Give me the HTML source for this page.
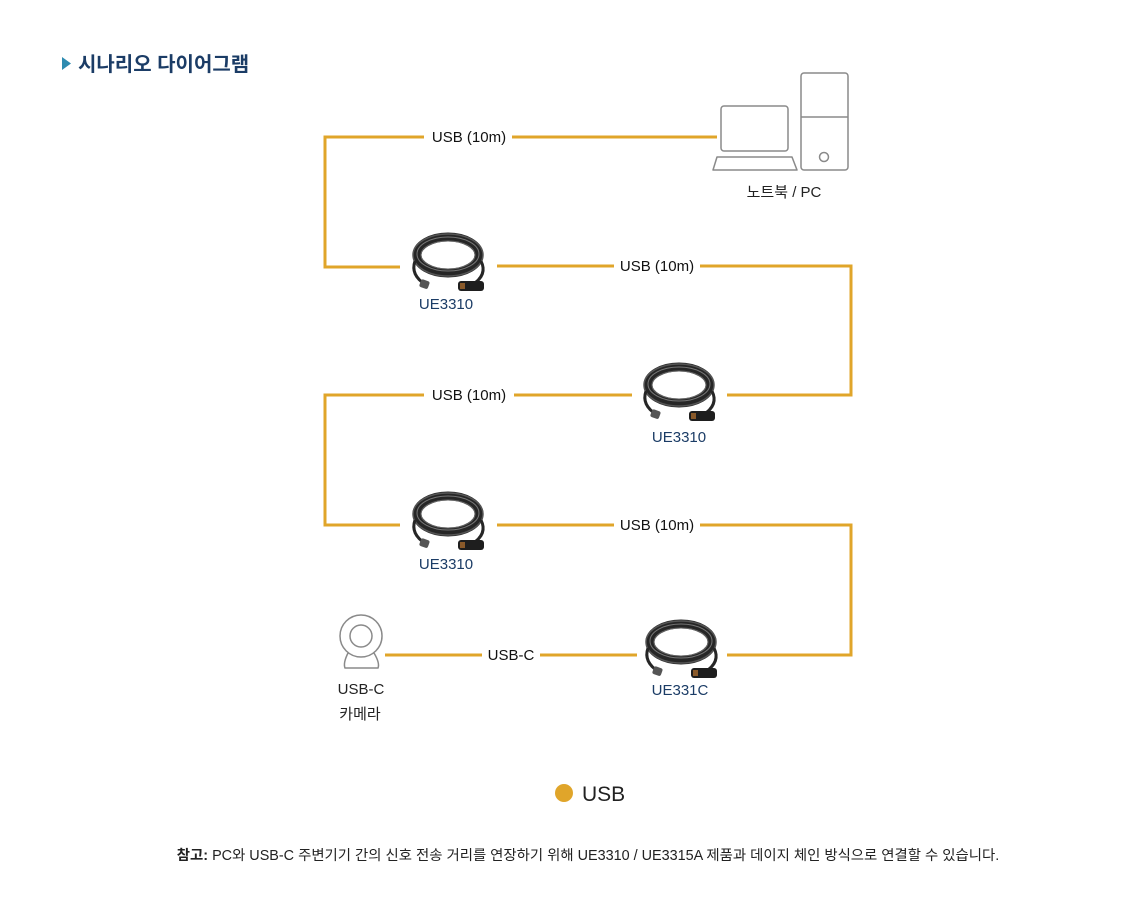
<!DOCTYPE html>
<html><head><meta charset="utf-8"><style>
body{margin:0;background:#fff;width:1140px;height:913px;overflow:hidden;font-family:"Liberation Sans","Noto Sans CJK KR",sans-serif}
svg{position:absolute;left:0;top:0}
</style></head><body>
<svg width="1140" height="913" viewBox="0 0 1140 913" font-family="Liberation Sans, Noto Sans CJK KR, sans-serif">
<defs>
<g id="cable">
 <g fill="none" stroke="#262626">
  <ellipse cx="0" cy="0" rx="31" ry="18" stroke-width="9"/>
  <ellipse cx="0" cy="0" rx="35" ry="21" stroke-width="1.5" stroke="#555"/>
  <ellipse cx="0" cy="0" rx="27" ry="14" stroke-width="1" stroke="#666"/>
  <ellipse cx="0" cy="-1" rx="31" ry="17" stroke-width="1" stroke="#777"/>
  <path d="M-33 6 Q-38 20 -22 30" stroke-width="3"/>
  <path d="M33 6 Q40 20 24 30" stroke-width="3"/>
 </g>
 <rect x="-28" y="25" width="9" height="8" rx="2" fill="#555" transform="rotate(20 -24 29)"/>
 <rect x="10" y="26" width="26" height="10" rx="3" fill="#1e1e1e"/>
 <rect x="12" y="28" width="5" height="6" fill="#8a5a2a"/>
</g>
</defs>

<polygon points="62,57 71,63.5 62,70" fill="#2e8bb0"/>
<text x="78" y="71" font-size="20" font-weight="bold" fill="#1b3c66">시나리오 다이어그램</text>

<g fill="none" stroke="#e0a52a" stroke-width="3">
 <polyline points="717,137 325,137 325,267 400,267"/>
 <polyline points="497,266 851,266 851,395 727,395"/>
 <polyline points="632,395 325,395 325,525 400,525"/>
 <polyline points="497,525 851,525 851,655 727,655"/>
 <line x1="385" y1="655" x2="637" y2="655"/>
</g>
<g font-size="15" fill="#111" text-anchor="middle">
 <rect x="424" y="126" width="88" height="22" fill="#fff"/><text x="469" y="142">USB (10m)</text>
 <rect x="614" y="255" width="86" height="22" fill="#fff"/><text x="657" y="271">USB (10m)</text>
 <rect x="424" y="384" width="90" height="22" fill="#fff"/><text x="469" y="400">USB  (10m)</text>
 <rect x="614" y="514" width="86" height="22" fill="#fff"/><text x="657" y="530">USB (10m)</text>
 <rect x="482" y="644" width="58" height="22" fill="#fff"/><text x="511" y="660">USB-C</text>
</g>

<!-- PC -->
<g fill="none" stroke="#8a8a8a" stroke-width="1.5">
 <rect x="721" y="106" width="67" height="45" rx="3"/>
 <path d="M717 157 L792 157 L797 170 L713 170 Z" stroke-linejoin="round"/>
 <rect x="801" y="73" width="47" height="97" rx="3"/>
 <line x1="801" y1="117" x2="848" y2="117"/>
 <circle cx="824" cy="157" r="4.5"/>
</g>
<text x="784" y="197" font-size="15" fill="#222" text-anchor="middle">노트북 / PC</text>

<use href="#cable" x="448" y="255"/>
<use href="#cable" x="679" y="385"/>
<use href="#cable" x="448" y="514"/>
<use href="#cable" x="681" y="642"/>
<g font-size="15" fill="#1b3c66" text-anchor="middle">
 <text x="446" y="309">UE3310</text>
 <text x="679" y="442">UE3310</text>
 <text x="446" y="569">UE3310</text>
 <text x="680" y="695">UE331C</text>
</g>

<!-- camera -->
<g fill="none" stroke="#8a8a8a" stroke-width="1.5">
 <circle cx="361" cy="636" r="21"/>
 <circle cx="361" cy="636" r="11"/>
 <path d="M348 653 Q343 663 345 668 L378 668 Q380 663 374 653"/>
</g>
<g font-size="15" fill="#222" text-anchor="middle">
 <text x="361" y="694">USB-C</text>
 <text x="360" y="719">카메라</text>
</g>

<circle cx="564" cy="793" r="9" fill="#e0a52a"/>
<text x="582" y="801" font-size="21" fill="#222">USB</text>

<text x="588" y="860" font-size="14.4" fill="#222" text-anchor="middle"><tspan font-weight="bold">참고:</tspan> PC와 USB-C 주변기기 간의 신호 전송 거리를 연장하기 위해 UE3310 / UE3315A 제품과 데이지 체인 방식으로 연결할 수 있습니다.</text>
</svg>
</body></html>
